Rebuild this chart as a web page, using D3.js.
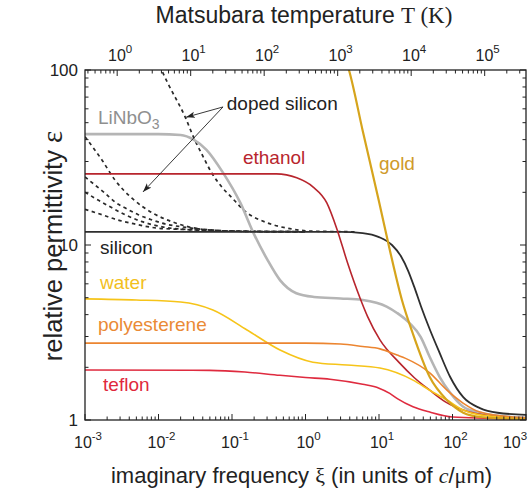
<!DOCTYPE html>
<html>
<head>
<meta charset="utf-8">
<script src="https://cdn.jsdelivr.net/npm/d3@7"></script>
<style>
  body { margin: 0; background: #fff; }
  text { font-family: "Liberation Sans", Arial, Helvetica, sans-serif; }
  .serif { font-family: "Liberation Serif", "Times New Roman", serif; }
</style>
</head>
<body>
<script>
// permittivity vs imaginary frequency, log-log
var svgWidth = 529;
var svgHeight = 492;

var margin = { top: 70, right: 3, bottom: 72, left: 85 };
var chartWidth = svgWidth - margin.left - margin.right;
var chartHeight = svgHeight - margin.top - margin.bottom;

// ---- data: [xi (c/um), epsilon] ----
var linbo3 = [[1e-3,43],[0.01,43],[0.02,42.5],[0.03,40],[0.045,35],[0.075,26],[0.13,17.4],[0.2,11.5],[0.3,8.3],[0.45,6.3],[0.75,5.3],[1.3,5.05],[3,4.95],[6,4.85],[12.7,4.45],[17.6,4.09],[26,3.58],[37,2.98],[49,2.29],[67,1.76],[93,1.43],[140,1.19],[240,1.10],[660,1.04],[1000,1.03]];
var ethanol = [[1e-3,25.5],[0.4,25.5],[0.76,24.2],[1.26,21.5],[1.95,17.4],[2.7,12.2],[3.7,8],[5.5,5],[7,3.9],[10.3,2.87],[19,2.12],[30,1.75],[49,1.48],[80,1.27],[140,1.14],[440,1.04],[1000,1.02]];
var silicon = [[1e-3,11.9],[3,11.9],[6,11.7],[10,11.1],[15,10],[20,8.6],[25,7.1],[30,5.8],[37,4.5],[49,3.3],[67,2.41],[93,1.76],[140,1.35],[236,1.17],[410,1.10],[1000,1.07]];
var gold = [[3.4,120],[3.9,100],[6,45],[10,17.7],[14,9.4],[20.5,4.85],[29,3.1],[49,1.76],[84,1.3],[140,1.1],[240,1.04],[1000,1.01]];
var water = [[1e-3,4.92],[0.005,4.85],[0.02,4.72],[0.055,4.25],[0.16,3.27],[0.45,2.51],[1.26,2.14],[3.67,2.06],[10.3,1.98],[29,1.69],[49,1.48],[84,1.30],[139,1.14],[236,1.07],[1000,1.02]];
var polystyrene = [[1e-3,2.75],[1,2.75],[3,2.72],[6,2.63],[10.3,2.55],[17.6,2.35],[23,2.25],[49,1.86],[84,1.48],[139,1.25],[236,1.11],[660,1.04],[1000,1.03]];
var teflon = [[1e-3,1.93],[0.05,1.92],[0.15,1.88],[0.45,1.80],[1,1.75],[2.15,1.71],[6,1.60],[10,1.52],[14,1.42],[18,1.32],[29,1.19],[49,1.11],[100,1.04],[1000,1.01]];

// doped silicon (dashed)
var dopedSteep = [[0.0095,115],[0.011,100],[0.0134,84],[0.023,54],[0.031,40],[0.039,33],[0.053,25.8],[0.073,21.4],[0.1,18.6],[0.15,15.6],[0.3,13.4],[0.55,12.5],[1.26,12.0],[5,11.9]];
var dopedA = [[1e-3,41.6],[1.7e-3,30.6],[2.56e-3,23.5],[4.36e-3,18.5],[8.4e-3,15.2],[0.0167,13.4],[0.039,12.3],[0.1,12.0],[1,11.9]];
var dopedB = [[1e-3,24.5],[1.37e-3,22],[1.87e-3,19.8],[2.56e-3,17.6],[3.5e-3,16.3],[5.3e-3,14.9],[8.2e-3,13.9],[0.0122,13.2],[0.0208,12.7],[0.05,12.2],[0.1,12.0],[1,11.9]];
var dopedC = [[1e-3,20],[1.5e-3,18.1],[2.33e-3,16.3],[3.5e-3,14.9],[5.96e-3,13.6],[0.0112,12.7],[0.03,12.2],[0.1,12.0],[1,11.9]];
var dopedD = [[1e-3,16],[1.7e-3,14.9],[2.8e-3,13.9],[4.7e-3,13.2],[9.4e-3,12.5],[0.019,12.3],[0.05,12.1],[1,11.9]];

// axis ticks
var xDecades = [-3,-2,-1,0,1,2,3];
var tDecades = [0,1,2,3,4,5];
var yTickLabels = ["1","10","100"];
var xiPerKelvin = 0.00274;   // first Matsubara frequency 2*pi*k*T/hbar in c/um

// series table
var series = [
  { name: "LiNbO3", data: linbo3, color: "#b5b5b5", width: 2.6 },
  { name: "silicon", data: silicon, color: "#2e2e2e", width: 1.8 },
  { name: "ethanol", data: ethanol, color: "#b8252d", width: 1.6 },
  { name: "water", data: water, color: "#f6c419", width: 1.6 },
  { name: "polystyrene", data: polystyrene, color: "#ec8530", width: 1.6 },
  { name: "teflon", data: teflon, color: "#df2b3f", width: 1.6 },
  { name: "gold", data: gold, color: "#d6a41c", width: 2.2 }
];
var dashed = [dopedSteep, dopedA, dopedB, dopedC, dopedD];

var svg = d3.select("body").append("svg")
  .attr("width", svgWidth)
  .attr("height", svgHeight);

var chartGroup = svg.append("g")
  .attr("transform", `translate(${margin.left}, ${margin.top})`);

var xScale = d3.scaleLog().domain([1e-3, 1e3]).range([0, chartWidth]);
var yScale = d3.scaleLog().domain([1, 100]).range([chartHeight, 0]);
var tScale = d3.scaleLog().domain([1e-3 / xiPerKelvin, 1e3 / xiPerKelvin]).range([0, chartWidth]);

svg.append("defs").append("clipPath").attr("id", "plotclip")
  .append("rect").attr("width", chartWidth).attr("height", chartHeight);

svg.select("defs").append("marker")
  .attr("id", "arrow")
  .attr("viewBox", "0 0 10 10")
  .attr("refX", 10).attr("refY", 5)
  .attr("markerWidth", 9).attr("markerHeight", 9)
  .attr("markerUnits", "userSpaceOnUse")
  .attr("orient", "auto")
  .append("path").attr("d", "M0,1.5 L10,5 L0,8.5 L2.5,5 Z").attr("fill", "#222");

var line = d3.line()
  .x(d => xScale(d[0]))
  .y(d => yScale(d[1]))
  .curve(d3.curveMonotoneX);

var curves = chartGroup.append("g").attr("clip-path", "url(#plotclip)");

// dashed doped silicon curves under the solid ones
dashed.forEach(function(d) {
  curves.append("path")
    .attr("d", line(d))
    .attr("fill", "none")
    .attr("stroke", "#2a2a2a")
    .attr("stroke-width", 1.7)
    .attr("stroke-dasharray", "3.5,3.5");
});

series.forEach(function(s) {
  curves.append("path")
    .attr("d", line(s.data))
    .attr("fill", "none")
    .attr("stroke", s.color)
    .attr("stroke-width", s.width)
    .attr("stroke-linejoin", "round");
});

// ---- ticks (all pointing inward) ----
function minorValues(lo, hi) {
  var out = [];
  for (var e = Math.floor(Math.log10(lo)); e <= Math.ceil(Math.log10(hi)); e++) {
    for (var m = 1; m < 10; m++) {
      var v = m * Math.pow(10, e);
      if (v >= lo * 0.999 && v <= hi * 1.001) out.push({ v: v, major: m === 1 });
    }
  }
  return out;
}
var tickGroup = chartGroup.append("g").attr("stroke", "#222").attr("stroke-width", 1);

minorValues(1e-3, 1e3).forEach(function(t) {
  var x = xScale(t.v), len = t.major ? 6 : 3.5;
  tickGroup.append("line").attr("x1", x).attr("x2", x).attr("y1", chartHeight).attr("y2", chartHeight - len);
});
minorValues(tScale.domain()[0], tScale.domain()[1]).forEach(function(t) {
  var x = tScale(t.v), len = t.major ? 6 : 3.5;
  tickGroup.append("line").attr("x1", x).attr("x2", x).attr("y1", 0).attr("y2", len);
});
minorValues(1, 100).forEach(function(t) {
  var y = yScale(t.v), len = t.major ? 6 : 3.5;
  tickGroup.append("line").attr("x1", 0).attr("x2", len).attr("y1", y).attr("y2", y);
  tickGroup.append("line").attr("x1", chartWidth).attr("x2", chartWidth - len).attr("y1", y).attr("y2", y);
});

// frame
chartGroup.append("rect")
  .attr("width", chartWidth).attr("height", chartHeight)
  .attr("fill", "none").attr("stroke", "#222").attr("stroke-width", 1.3);

// ---- tick labels ----
function powerLabel(g, x, y, exp) {
  var t = g.append("text").attr("x", x).attr("y", y)
    .attr("text-anchor", "middle").attr("font-size", 16).attr("fill", "#222");
  t.append("tspan").text("10");
  t.append("tspan").attr("dy", -8).attr("font-size", 11.5).text(exp);
}
xDecades.forEach(function(e) {
  var x = xScale(Math.pow(10, e));
  if (e === 3) x -= 14;
  powerLabel(chartGroup, x + 3, chartHeight + 28, e);
});
tDecades.forEach(function(e) {
  powerLabel(chartGroup, tScale(Math.pow(10, e)) + 3, -9, e);
});
yTickLabels.forEach(function(l) {
  chartGroup.append("text")
    .attr("x", -7).attr("y", yScale(+l) + 6)
    .attr("text-anchor", "end").attr("font-size", 17).attr("fill", "#222")
    .text(l);
});

// ---- axis titles ----
var topTitle = svg.append("text")
  .attr("x", 304).attr("y", 23)
  .attr("text-anchor", "middle").attr("font-size", 23).attr("fill", "#222");
topTitle.append("tspan").text("Matsubara temperature ");
topTitle.append("tspan").attr("class", "serif").text("T (K)");

var botTitle = svg.append("text")
  .attr("x", margin.left + chartWidth / 2 - 4).attr("y", 483)
  .attr("text-anchor", "middle").attr("font-size", 22).attr("fill", "#222");
botTitle.append("tspan").text("imaginary frequency ");
botTitle.append("tspan").attr("class", "serif").text("ξ");
botTitle.append("tspan").text(" (in units of ");
botTitle.append("tspan").attr("class", "serif").attr("font-style", "italic").text("c");
botTitle.append("tspan").text("/");
botTitle.append("tspan").attr("class", "serif").text("μ");
botTitle.append("tspan").text("m)");

var yTitle = svg.append("text")
  .attr("transform", `translate(62, 246) rotate(-90)`)
  .attr("text-anchor", "middle").attr("font-size", 25.5).attr("fill", "#222");
yTitle.append("tspan").text("relative permittivity ");
yTitle.append("tspan").attr("class", "serif").attr("font-size", 29).text("ε");

// ---- curve labels ----
var labels = [
  { text: "LiNbO", sub: "3", xi: 1.5e-3, eps: 49, color: "#8f8f8f" },
  { text: "ethanol", xi: 0.141, eps: 29, color: "#b8252d" },
  { text: "silicon", xi: 1.6e-3, eps: 8.9, color: "#222" },
  { text: "water", xi: 1.6e-3, eps: 5.6, color: "#f2c01d" },
  { text: "polyesterene", xi: 1.5e-3, eps: 3.22, color: "#ea8a35" },
  { text: "teflon", xi: 1.76e-3, eps: 1.46, color: "#e0283c" },
  { text: "gold", xi: 10, eps: 27, color: "#cf9a2a" },
  { text: "doped silicon", xi: 0.085, eps: 59, color: "#222" }
];
labels.forEach(function(l) {
  var t = chartGroup.append("text")
    .attr("x", xScale(l.xi)).attr("y", yScale(l.eps))
    .attr("font-size", 19).attr("fill", l.color);
  t.append("tspan").text(l.text);
  if (l.sub) t.append("tspan").attr("dy", 5).attr("font-size", 14).text(l.sub);
});

// arrows from the doped silicon label
var arrowFrom = [0.0755, 61.5];
var arrowTips = [[0.0237, 53.7], [0.00615, 20.1]];
arrowTips.forEach(function(tip) {
  chartGroup.append("line")
    .attr("x1", xScale(arrowFrom[0])).attr("y1", yScale(arrowFrom[1]))
    .attr("x2", xScale(tip[0])).attr("y2", yScale(tip[1]))
    .attr("stroke", "#222").attr("stroke-width", 0.9)
    .attr("marker-end", "url(#arrow)");
});
</script>
</body>
</html>
